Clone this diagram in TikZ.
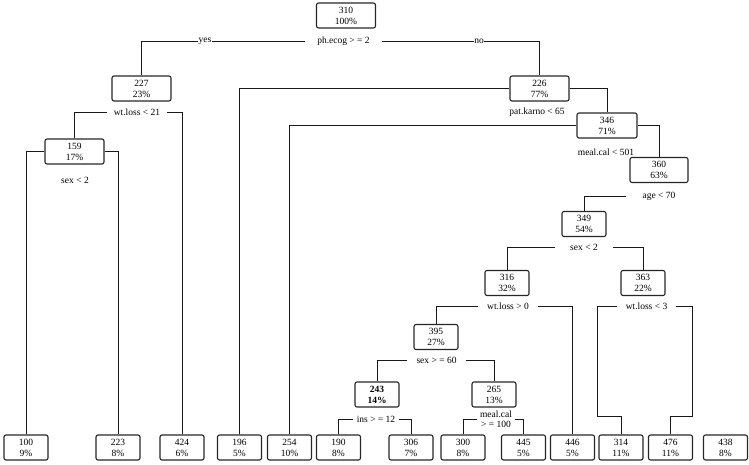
\documentclass[tikz,border=0pt]{standalone}
\usepackage{fontspec}
\setmainfont{Liberation Serif}
\begin{document}
\begin{tikzpicture}[x=1pt,y=-1pt,
  every node/.style={font=\fontsize{9.5}{11}\selectfont},
  box/.style={draw=black!85, line width=1.1pt, rounded corners=2pt, minimum width=44pt, minimum height=25pt, align=center, inner sep=0pt},
  wbox/.style={box, minimum width=59pt},
  cond/.style={inner xsep=0pt, inner ysep=1pt, align=center},
  edge/.style={draw=black!90, line width=0.85pt},
  yn/.style={fill=white, inner sep=0.5pt}]
\useasboundingbox (0,0) rectangle (749,464);
% internal nodes
\node[wbox] (n310) at (346,15.5) {310\\100\%};
\node[wbox] (n227) at (141.5,88.5) {227\\23\%};
\node[wbox] (n159) at (74.5,151.5) {159\\17\%};
\node[wbox] (n226) at (539.5,88.5) {226\\77\%};
\node[wbox, minimum width=60pt] (n346) at (607,125.5) {346\\71\%};
\node[wbox, minimum width=58pt] (n360) at (659,170) {360\\63\%};
\node[box] (n349) at (584,224) {349\\54\%};
\node[box] (n316) at (507,283) {316\\32\%};
\node[box] (n363) at (643,283) {363\\22\%};
\node[box] (n395) at (436,337) {395\\27\%};
\node[box, font=\fontsize{9.5}{11}\selectfont\bfseries] (n243) at (377,394.5) {243\\14\%};
\node[box] (n265) at (494,394.5) {265\\13\%};
% leaves
\node[box] (l100) at (26,447.5) {100\\9\%};
\node[box] (l223) at (118,447.5) {223\\8\%};
\node[box] (l424) at (182,447.5) {424\\6\%};
\node[box] (l196) at (239.5,447.5) {196\\5\%};
\node[box] (l254) at (289.5,447.5) {254\\10\%};
\node[box] (l190) at (338.5,447.5) {190\\8\%};
\node[box] (l306) at (411,447.5) {306\\7\%};
\node[box] (l300) at (463,447.5) {300\\8\%};
\node[box] (l445) at (523.5,447.5) {445\\5\%};
\node[box] (l446) at (572.5,447.5) {446\\5\%};
\node[box] (l314) at (621,447.5) {314\\11\%};
\node[box] (l476) at (670.5,447.5) {476\\11\%};
\node[box] (l438) at (725.5,447.5) {438\\8\%};
% split labels
\node[cond, minimum width=77pt] (c1) at (343.5,41) {ph.ecog > = 2};
\node[cond, minimum width=60pt] (c2) at (137,112) {wt.loss < 21};
\node[cond] (c3) at (75,180) {sex < 2};
\node[cond] (c4) at (537,112) {pat.karno < 65};
\node[cond] (c5) at (606,152) {meal.cal < 501};
\node[cond, minimum width=66pt] (c6) at (659,196) {age < 70};
\node[cond, minimum width=58pt] (c7) at (584,247) {sex < 2};
\node[cond, minimum width=60pt] (c8) at (508,306) {wt.loss > 0};
\node[cond, minimum width=59pt] (c9) at (646.5,306) {wt.loss < 3};
\node[cond, minimum width=59pt] (c10) at (436.5,360) {sex > = 60};
\node[cond, minimum width=46pt] (c11) at (376,419) {ins > = 12};
\node[cond, minimum width=37pt, font=\fontsize{9.5}{10}\selectfont] (c12) at (496,419) {meal.cal\\> = 100};
\coordinate (j1) at (597,416);
\coordinate (j2) at (692,416);
% connectors
\draw[edge] (c1.west) -| (n227.north);
\draw[edge] (c1.east) -| (n226.north);
\draw[edge] (c2.west) -| (n159.north);
\draw[edge] (c2.east) -| (l424.north);
\draw[edge] (n159.west) -| (l100.north);
\draw[edge] (n159.east) -| (l223.north);
\draw[edge] (n226.west) -| (l196.north);
\draw[edge] (n226.east) -| (n346.north);
\draw[edge] (n346.west) -| (l254.north);
\draw[edge] (n346.east) -| (n360.north);
\draw[edge] (c6.west) -| (n349.north);
\draw[edge] (c7.west) -| (n316.north);
\draw[edge] (c7.east) -| (n363.north);
\draw[edge] (c8.west) -| (n395.north);
\draw[edge] (c8.east) -| (l446.north);
\draw[edge] (c9.west) -| (j1) -| (l314.north);
\draw[edge] (c9.east) -| (j2) -| (l476.north);
\draw[edge] (c10.west) -| (n243.north);
\draw[edge] (c10.east) -| (n265.north);
\draw[edge] (c11.west) -| (l190.north);
\draw[edge] (c11.east) -| (l306.north);
\draw[edge] (c12.west) -| (l300.north);
\draw[edge] (c12.east) -| (l445.north);
\node[yn] (yes) at (205,41) {yes};
\node[yn] (no) at (479,41) {no};
\end{tikzpicture}
\end{document}
